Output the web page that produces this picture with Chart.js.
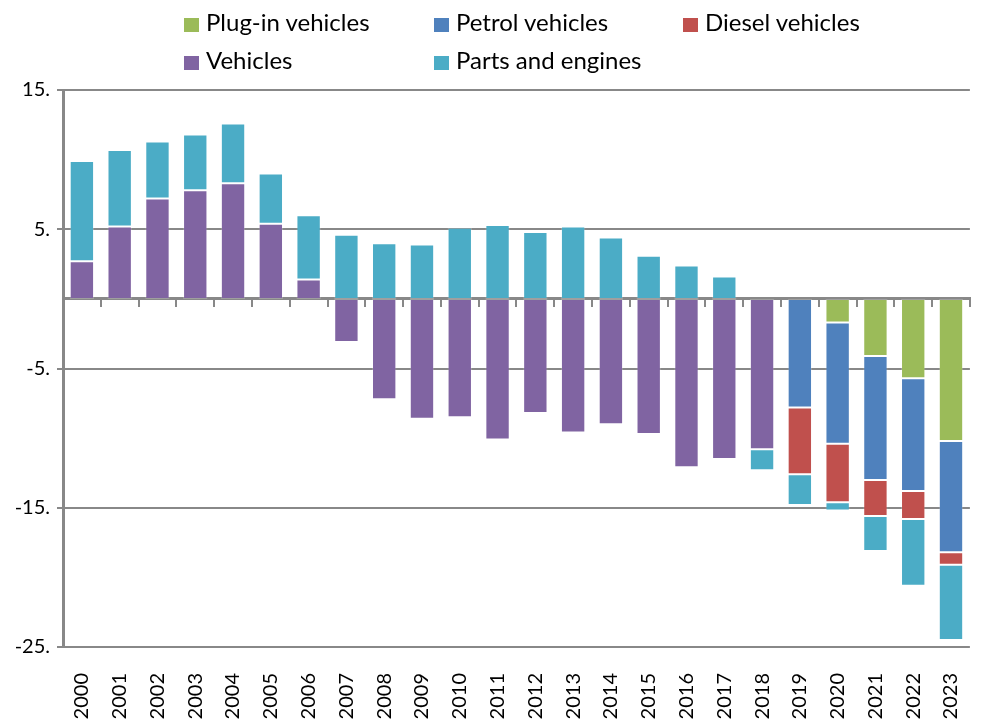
<!DOCTYPE html>
<html>
<head>
<meta charset="utf-8">
<script src="https://cdn.jsdelivr.net/npm/chart.js@4"></script>
<style>
  html, body { margin: 0; padding: 0; background: #fff; overflow: hidden; }
  #wrap { position: relative; width: 983px; height: 719px; overflow: hidden; }
  #tradeChart { position: absolute; left: 0; top: 0; }
  #legend { position: absolute; left: 0; top: 0; width: 983px; height: 80px; font-family: Lato, sans-serif; font-size: 24px; color: #000; }
  .item { position: absolute; white-space: nowrap; line-height: 28px; }
  .item span.box { display: inline-block; width: 15px; height: 14px; margin-right: 7px; vertical-align: -1px; }
</style>
</head>
<body>
<div id="wrap">
  <canvas id="tradeChart" width="993" height="719"></canvas>
  <div id="legend"></div>
</div>
<script>
// DATA
let years = ['2000', '2001', '2002', '2003', '2004', '2005', '2006', '2007', '2008', '2009', '2010', '2011',
    '2012', '2013', '2014', '2015', '2016', '2017', '2018', '2019', '2020', '2021', '2022', '2023'];

let plugIn = [null, null, null, null, null, null, null, null, null, null, null, null,
    null, null, null, null, null, null, null, null, -1.7, -4.1, -5.7, -10.2];
let petrol = [null, null, null, null, null, null, null, null, null, null, null, null,
    null, null, null, null, null, null, null, -7.8, -8.7, -8.9, -8.1, -8.0];
let diesel = [null, null, null, null, null, null, null, null, null, null, null, null,
    null, null, null, null, null, null, null, -4.8, -4.2, -2.6, -2.0, -0.9];
let vehicles = [2.7, 5.2, 7.2, 7.8, 8.3, 5.4, 1.4, -3.1, -7.2, -8.6, -8.5, -10.1,
    -8.2, -9.6, -9.0, -9.7, -12.1, -11.5, -10.8, null, null, null, null, null];
let parts = [7.2, 5.5, 4.1, 4.0, 4.3, 3.6, 4.6, 4.6, 4.0, 3.9, 5.1, 5.3,
    4.8, 5.2, 4.4, 3.1, 2.4, 1.6, -1.5, -2.2, -0.6, -2.5, -4.8, -5.4];

let yTicks = [-25, -15, -5, 5, 15];

let gridGrey = '#888888';
let font = 'Lato, sans-serif';

function makeSet(label, data, color) {
    return {
        label: label,
        data: data,
        backgroundColor: color,
        borderColor: 'rgba(255,255,255,0.2)',
        borderWidth: 1,
        borderSkipped: false,
        categoryPercentage: 1,
        barPercentage: 0.645
    };
}

let ctx = document.querySelector('#tradeChart').getContext('2d');

let tradeChart = new Chart(ctx, {
    type: 'bar',
    data: {
        labels: years,
        datasets: [
            makeSet('Plug-in vehicles', plugIn, '#9bbb59'),
            makeSet('Petrol vehicles', petrol, '#4f81bd'),
            makeSet('Diesel vehicles', diesel, '#c0504d'),
            makeSet('Vehicles', vehicles, '#8064a2'),
            makeSet('Parts and engines', parts, '#4bacc6')
        ]
    },
    options: {
        responsive: false,
        animation: false,
        layout: {
            padding: { top: 90, left: 0, right: 0, bottom: 0 }
        },
        plugins: {
            legend: { display: false },
            tooltip: { enabled: false }
        },
        scales: {
            x: {
                stacked: true,
                position: 'bottom',
                grid: { display: false },
                border: { display: false },
                ticks: {
                    color: '#000',
                    minRotation: 90,
                    maxRotation: 90,
                    padding: 18,
                    font: { family: font, size: 20 }
                },
                afterFit: (scale) => { scale.height = 72; }
            },
            // axis line through zero with the small tick marks
            x2: {
                type: 'category',
                labels: years,
                position: { y: 0 },
                offset: true,
                grid: {
                    offset: true,
                    drawOnChartArea: false,
                    drawTicks: true,
                    tickLength: 7,
                    color: gridGrey,
                    lineWidth: 2
                },
                border: { display: true, color: gridGrey, width: 3 },
                ticks: { display: false },
                afterFit: (scale) => { scale.height = 0; }
            },
            y: {
                stacked: true,
                min: -25,
                max: 15,
                afterBuildTicks: (scale) => {
                    scale.ticks = yTicks.map(v => ({ value: v }));
                },
                grid: {
                    color: gridGrey,
                    lineWidth: 2,
                    tickLength: 6
                },
                border: { display: true, color: gridGrey, width: 3 },
                ticks: {
                    color: '#000',
                    padding: 7,
                    font: { family: font, size: 20 },
                    callback: (v) => v + '.'
                },
                afterFit: (scale) => { scale.width = 63; }
            }
        }
    }
});

// HTML legend, three columns like the original
let legendDiv = document.querySelector('#legend');
let colX = [184, 434, 683];
let rowY = [8, 46];
tradeChart.data.datasets.forEach((ds, i) => {
    let item = document.createElement('div');
    item.className = 'item';
    item.style.left = colX[i % 3] + 'px';
    item.style.top = rowY[Math.floor(i / 3)] + 'px';
    let box = document.createElement('span');
    box.className = 'box';
    box.style.backgroundColor = ds.backgroundColor;
    item.append(box);
    item.append(ds.label);
    legendDiv.append(item);
});
</script>
</body>
</html>
